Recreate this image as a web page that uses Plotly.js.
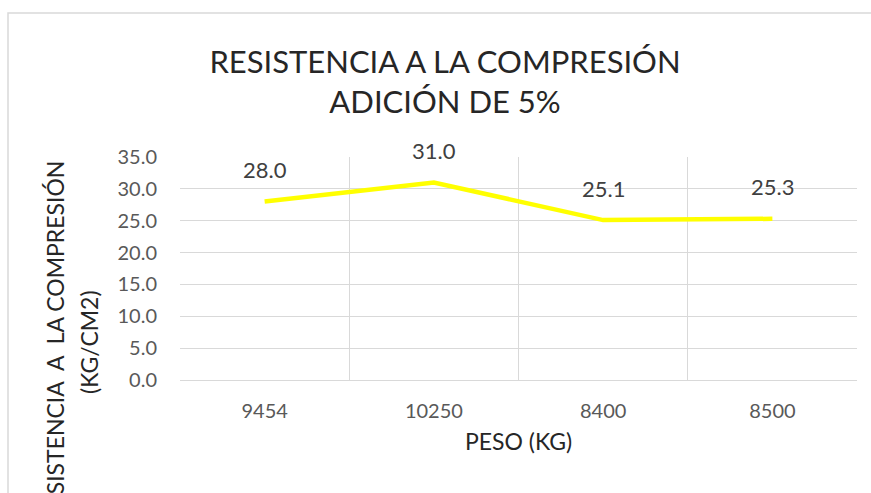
<!DOCTYPE html>
<html>
<head>
<meta charset="utf-8">
<script src="https://cdn.plot.ly/plotly-3.0.1.min.js"></script>
<style>html,body{margin:0;padding:0;background:#fff;}#chart{width:871px;height:493px;}</style>
</head>
<body>
<div id="chart"></div>
<script>
const categories = ["9454", "10250", "8400", "8500"];
const resistencia = [28.0, 31.0, 25.1, 25.3];
const labels = ["28.0", "31.0", "25.1", "25.3"];
const chartTitle = "RESISTENCIA A LA COMPRESIÓN<br>ADICIÓN DE 5%";
const xTitle = "PESO (KG)";
const yTitleLine1 = "RESISTENCIA  A  LA COMPRESIÓN";
const yTitleLine2 = "(KG/CM2)";

const FONT = "Lato, 'Open Sans', sans-serif";
const W = 871, H = 493;
const L = 180, R = 14, T = 157, B = 113;
const pw = W - L - R, ph = H - T - B;
const px = v => (v - L) / pw;
const py = v => (H - B - v) / ph;

const trace = {
  type: "scatter",
  mode: "lines",
  x: categories,
  y: resistencia,
  line: {color: "#FFFF00", width: 4.5, shape: "linear"},
  hoverinfo: "x+y"
};

// data labels: x given as category index (category axis)
const annotations = categories.map((c, i) => ({
  x: i, y: resistencia[i], xref: "x", yref: "y",
  text: labels[i], showarrow: false, yshift: 32,
  xanchor: "center", yanchor: "middle",
  font: {family: FONT, size: 22, color: "#404040"}
}));
annotations.push({
  xref: "paper", yref: "paper", x: px(55), y: py(342),
  text: yTitleLine1, textangle: -90, showarrow: false,
  xanchor: "center", yanchor: "middle",
  font: {family: FONT, size: 23, color: "#262626"}
});
annotations.push({
  xref: "paper", yref: "paper", x: px(89), y: py(342),
  text: yTitleLine2, textangle: -90, showarrow: false,
  xanchor: "center", yanchor: "middle",
  font: {family: FONT, size: 23, color: "#262626"}
});

const layout = {
  width: W, height: H,
  margin: {l: L, r: R, t: T, b: B},
  paper_bgcolor: "#ffffff", plot_bgcolor: "#ffffff",
  showlegend: false,
  title: {
    text: chartTitle,
    x: 445 / W, xref: "container", xanchor: "center",
    y: 1 - 73 / H, yref: "container", yanchor: "middle",
    font: {family: FONT, size: 31, color: "#262626"}
  },
  xaxis: {
    type: "category",
    categoryorder: "array", categoryarray: categories,
    range: [-0.5, 3.5], autorange: false,
    tickson: "boundaries",
    showgrid: true, gridcolor: "#d9d9d9", gridwidth: 1,
    showline: true, linecolor: "#d9d9d9", linewidth: 1,
    ticks: "", ticklabelstandoff: 13, tickangle: 0,
    tickfont: {family: FONT, size: 20, color: "#595959"},
    title: {text: xTitle, standoff: 12, font: {family: FONT, size: 23, color: "#262626"}},
    automargin: false, fixedrange: true
  },
  yaxis: {
    range: [0, 35], dtick: 5, tick0: 0, tickformat: ".1f",
    showgrid: true, gridcolor: "#d9d9d9", gridwidth: 1,
    zeroline: false, showline: false,
    ticks: "", ticklabelstandoff: 22,
    tickfont: {family: FONT, size: 20, color: "#595959"},
    automargin: false, fixedrange: true
  },
  annotations: annotations,
  shapes: [{
    type: "rect", xref: "paper", yref: "paper",
    x0: px(8), x1: px(890), y0: py(510), y1: py(13),
    line: {color: "#d9d9d9", width: 1.5}, fillcolor: "rgba(0,0,0,0)", layer: "below"
  }]
};

Plotly.newPlot("chart", [trace], layout, {displayModeBar: false, staticPlot: true});
</script>
</body>
</html>
